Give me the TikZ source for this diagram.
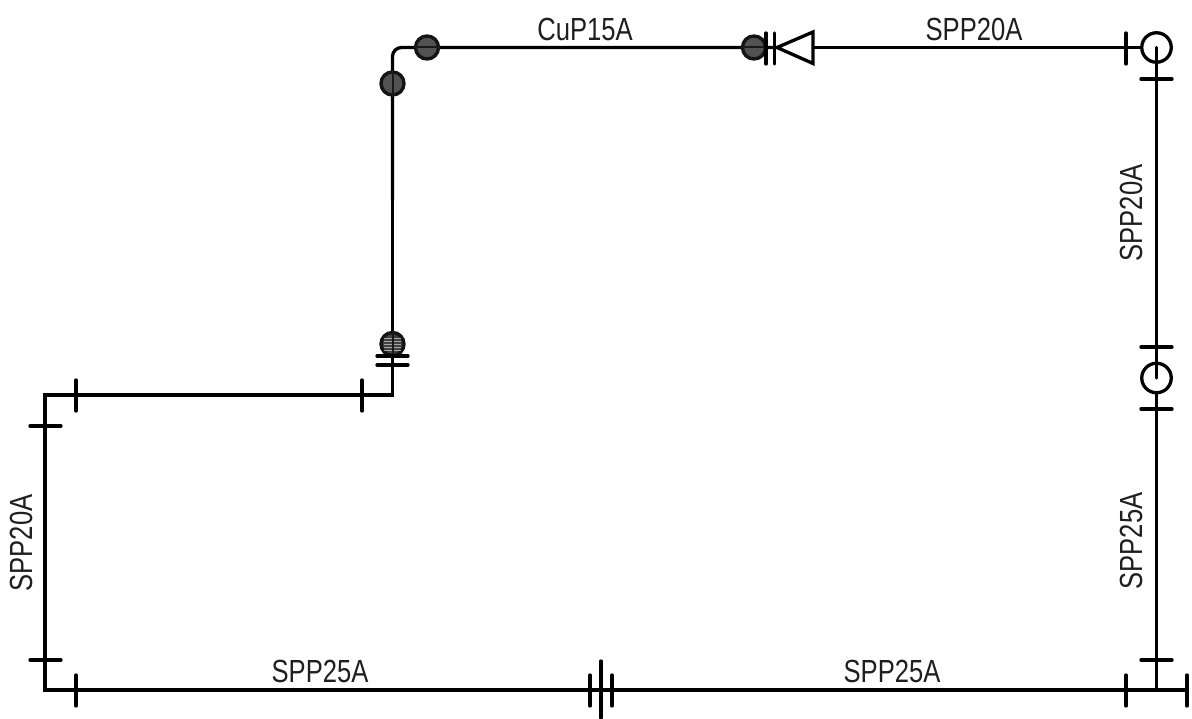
\documentclass[tikz,border=0pt]{standalone}
\usepackage{fontspec}
\setmainfont[FakeStretch=0.8]{Liberation Sans}
\tikzset{
  pipe/.style={line width=3.3pt},
  flange/.style={line width=3.3pt, line cap=round},
  ball/.style={circle, draw=black!92, line width=3.4pt, fill=black!68, minimum size=23pt, inner sep=0pt},
  ring/.style={circle, draw=black, line width=3.3pt, minimum size=29.5pt, inner sep=0pt},
  valve/.style={line width=3.3pt, line join=miter},
  core/.style={line width=2pt, black!90},
  lbl/.style={inner sep=0pt, font=\fontsize{32}{32}\selectfont, text=black!88}
}
\begin{document}
\begin{tikzpicture}[x=1pt,y=-1pt]
\useasboundingbox (0,0) rectangle (1192,719);
\fill[white] (0,0) rectangle (1192,719);
% route points
\coordinate (bl) at (45,690);
\coordinate (ml) at (45,395);
\coordinate (mc) at (392.5,395);
\coordinate (tc) at (392.5,47.5);
\coordinate (be) at (1187,690);
\coordinate (bj) at (1156.5,690);
\coordinate (tri) at (813,47.5);
\coordinate (vt) at (777,47.5);
% rings
\node[ring] (r1) at (1156.5,47.5) {};
\node[ring] (r2) at (1156.5,378) {};
% pipes
\draw[pipe] (tri) -- (r1.west);
\draw[pipe] (bj) -- (r2.south);
\draw[pipe, line cap=round] (r2.center) -- (r1.center);
\draw[pipe, line join=miter] (be) -- (bl) -- (ml) -- (mc) -- (392.5,200);
\draw[pipe, rounded corners=9pt] (392.5,200) -- (tc) -- (vt);
% balls
\node[ball] (b1) at (427,47.5) {};
\node[ball] (b2) at (392.5,83.5) {};
\node[ball, fill=black!75] (b3) at (392.5,344) {};
\node[ball] (b4) at (754,47.5) {};
\draw[core] (b1.west) -- (b1.east);
\draw[core] (b2.north) -- (b2.south);
\draw[core] (b4.west) -- (b4.east);
\foreach \yy in {338,341,344,347,350}
  \draw[line width=0.8pt, black!35] (384,\yy) -- (401,\yy);
\draw[core] (b3.north) -- (b3.south);
% check valve
\draw[valve] (tri |- 0,32) -- (vt) -- (tri |- 0,63.5) -- cycle;
\draw[flange] (766,33) -- (766,64);
\draw[flange] (774.5,33) -- (774.5,64);
% flange ticks
\draw[flange] (377,356) -- (408,356);
\draw[flange] (377,365) -- (408,365);
\draw[flange] (362,380) -- (362,411);
\draw[flange] (76,380) -- (76,411);
\draw[flange] (30,426) -- (61,426);
\draw[flange] (30,660) -- (61,660);
\draw[flange] (76,675) -- (76,706);
\draw[flange] (590,675) -- (590,706);
\draw[flange] (601,661) -- (601,718);
\draw[flange] (612,675) -- (612,706);
\draw[flange] (1126,675) -- (1126,706);
\draw[flange] (1187,675) -- (1187,706);
\draw[flange] (1141,660) -- (1172,660);
\draw[flange] (1141,409) -- (1172,409);
\draw[flange] (1141,347) -- (1172,347);
\draw[flange] (1141,79) -- (1172,79);
\draw[flange] (1126,33) -- (1126,64);
% labels
\node[lbl] (l1) at (585,29) {CuP15A};
\node[lbl] (l2) at (974,29) {SPP20A};
\node[lbl] (l3) at (320,671) {SPP25A};
\node[lbl] (l4) at (892,671) {SPP25A};
\node[lbl, rotate=90] (l5) at (1131,213) {SPP20A};
\node[lbl, rotate=90] (l6) at (1131,541) {SPP25A};
\node[lbl, rotate=90] (l7) at (21,543) {SPP20A};
\end{tikzpicture}
\end{document}
